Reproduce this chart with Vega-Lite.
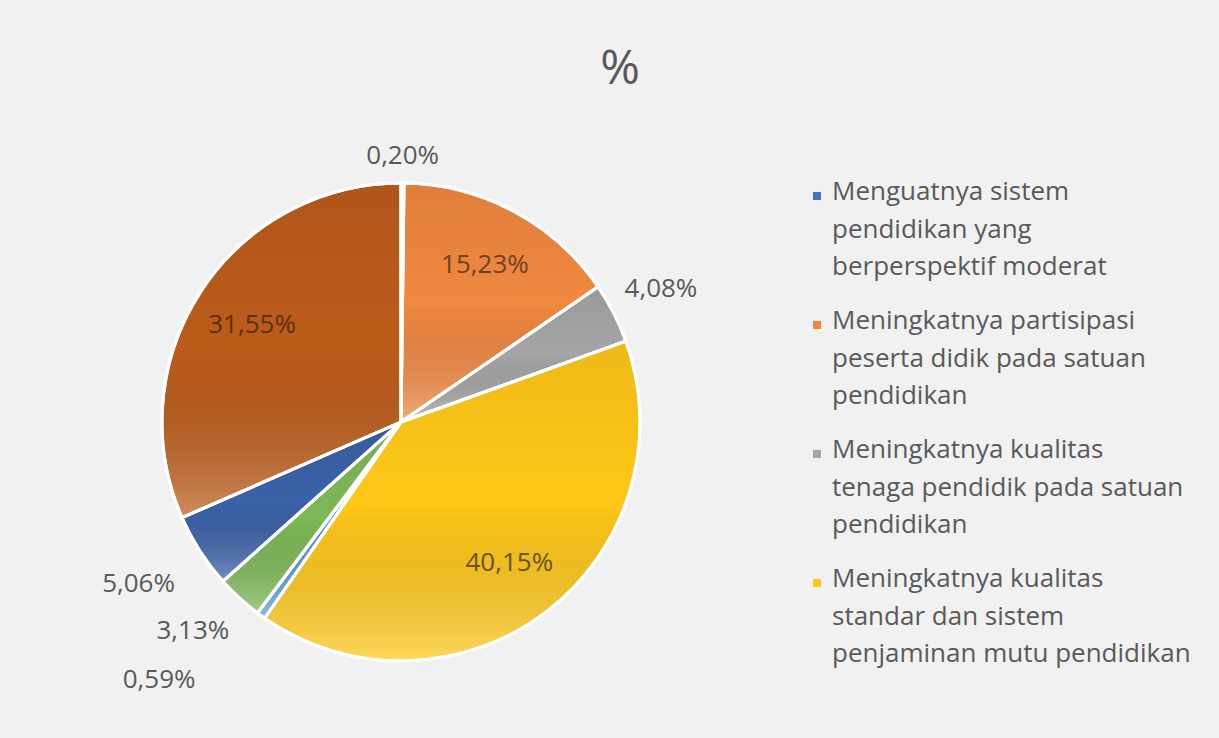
{
  "$schema": "https://vega.github.io/schema/vega-lite/v6.json",
  "width": 802,
  "height": 600,
  "autosize": "none",
  "padding": {"left": 0, "top": 122, "right": 417, "bottom": 16},
  "background": "#F1F1F1",
  "title": {
    "text": "%",
    "fontSize": 48,
    "font": "Open Sans",
    "fontWeight": "normal",
    "color": "#595959",
    "anchor": "middle",
    "dx": 219,
    "offset": 15
  },
  "data": {
    "values": [
      {"id": 1, "kategori": "Menguatnya sistem pendidikan yang berperspektif moderat", "nilai": 0.20},
      {"id": 2, "kategori": "Meningkatnya partisipasi peserta didik pada satuan pendidikan", "nilai": 15.23},
      {"id": 3, "kategori": "Meningkatnya kualitas tenaga pendidik pada satuan pendidikan", "nilai": 4.08},
      {"id": 4, "kategori": "Meningkatnya kualitas standar dan sistem penjaminan mutu pendidikan", "nilai": 40.15},
      {"id": 5, "kategori": "Kategori 5", "nilai": 0.59},
      {"id": 6, "kategori": "Kategori 6", "nilai": 3.13},
      {"id": 7, "kategori": "Kategori 7", "nilai": 5.06},
      {"id": 8, "kategori": "Kategori 8", "nilai": 31.55}
    ]
  },
  "transform": [
    {"calculate": "replace(format(datum.nilai, '.2f'), '.', ',') + '%'", "as": "label"}
  ],
  "encoding": {
    "theta": {"field": "nilai", "type": "quantitative", "stack": true},
    "order": {"field": "id", "type": "quantitative"}
  },
  "layer": [
    {
      "mark": {"type": "arc", "outerRadius": 239, "stroke": "white", "strokeWidth": 3},
      "encoding": {
        "color": {
          "field": "kategori",
          "type": "nominal",
          "sort": {"field": "id", "op": "min"},
          "scale": {"range": ["#4472C4", "#F08840", "#A5A5A5", "#FFC818", "#5B9BD5", "#7DB857", "#3A62A8", "#BC5C1A"]},
          "legend": {
            "orient": "none",
            "legendX": 804,
            "legendY": 61,
            "title": null,
            "values": [
              "Menguatnya sistem pendidikan yang berperspektif moderat",
              "Meningkatnya partisipasi peserta didik pada satuan pendidikan",
              "Meningkatnya kualitas tenaga pendidik pada satuan pendidikan",
              "Meningkatnya kualitas standar dan sistem penjaminan mutu pendidikan"
            ],
            "labelExpr": "datum.label == 'Menguatnya sistem pendidikan yang berperspektif moderat' ? ['Menguatnya sistem', 'pendidikan yang', 'berperspektif moderat'] : datum.label == 'Meningkatnya partisipasi peserta didik pada satuan pendidikan' ? ['Meningkatnya partisipasi', 'peserta didik pada satuan', 'pendidikan'] : datum.label == 'Meningkatnya kualitas tenaga pendidik pada satuan pendidikan' ? ['Meningkatnya kualitas', 'tenaga pendidik pada satuan', 'pendidikan'] : ['Meningkatnya kualitas', 'standar dan sistem', 'penjaminan mutu pendidikan']",
            "labelFont": "Open Sans",
            "labelFontSize": 26,
            "labelColor": "#595959",
            "labelLimit": 500,
            "labelBaseline": "top",
            "labelOffset": 2,
            "symbolType": "square",
            "symbolSize": 64,
            "symbolStrokeWidth": 0,
            "rowPadding": 28,
            "encoding": {"labels": {"lineHeight": {"value": 37.5}, "dy": {"value": -17}}}
          }
        }
      }
    },
    {
      "mark": {
        "type": "arc",
        "outerRadius": 239,
        "stroke": "white",
        "strokeWidth": 3,
        "fill": {
          "gradient": "linear",
          "x1": 0, "y1": 0, "x2": 0, "y2": 1,
          "stops": [
            {"offset": 0, "color": "rgba(0,0,0,0.07)"},
            {"offset": 0.5, "color": "rgba(0,0,0,0)"},
            {"offset": 1, "color": "rgba(255,255,255,0.3)"}
          ]
        }
      },
      "encoding": {}
    },
    {
      "mark": {"type": "text", "radius": 178, "font": "Open Sans", "fontSize": 26},
      "encoding": {
        "text": {"condition": {"test": "datum.nilai > 10", "field": "label"}, "value": ""},
        "fill": {
          "field": "kategori",
          "type": "nominal",
          "sort": {"field": "id", "op": "min"},
          "scale": {"range": ["#595959", "#6E4320", "#595959", "#6B5316", "#595959", "#595959", "#595959", "#5E2E0C"]},
          "legend": null
        }
      }
    },
    {
      "mark": {"type": "text", "radius": 266, "font": "Open Sans", "fontSize": 26, "fill": "#595959"},
      "encoding": {
        "text": {"condition": {"test": "datum.id == 1", "field": "label"}, "value": ""}
      }
    },
    {
      "mark": {"type": "text", "radius": 292, "font": "Open Sans", "fontSize": 26, "fill": "#595959"},
      "encoding": {
        "text": {"condition": {"test": "datum.id == 3", "field": "label"}, "value": ""}
      }
    },
    {
      "mark": {"type": "text", "radius": 300, "dx": -10, "font": "Open Sans", "fontSize": 26, "fill": "#595959"},
      "encoding": {
        "text": {"condition": {"test": "datum.id == 7", "field": "label"}, "value": ""}
      }
    },
    {
      "mark": {"type": "text", "radius": 290, "dx": -12, "dy": -5, "font": "Open Sans", "fontSize": 26, "fill": "#595959"},
      "encoding": {
        "text": {"condition": {"test": "datum.id == 6", "field": "label"}, "value": ""}
      }
    },
    {
      "mark": {"type": "text", "radius": 290, "dx": -72, "dy": 23, "font": "Open Sans", "fontSize": 26, "fill": "#595959"},
      "encoding": {
        "text": {"condition": {"test": "datum.id == 5", "field": "label"}, "value": ""}
      }
    }
  ],
  "config": {"view": {"stroke": null}}
}
